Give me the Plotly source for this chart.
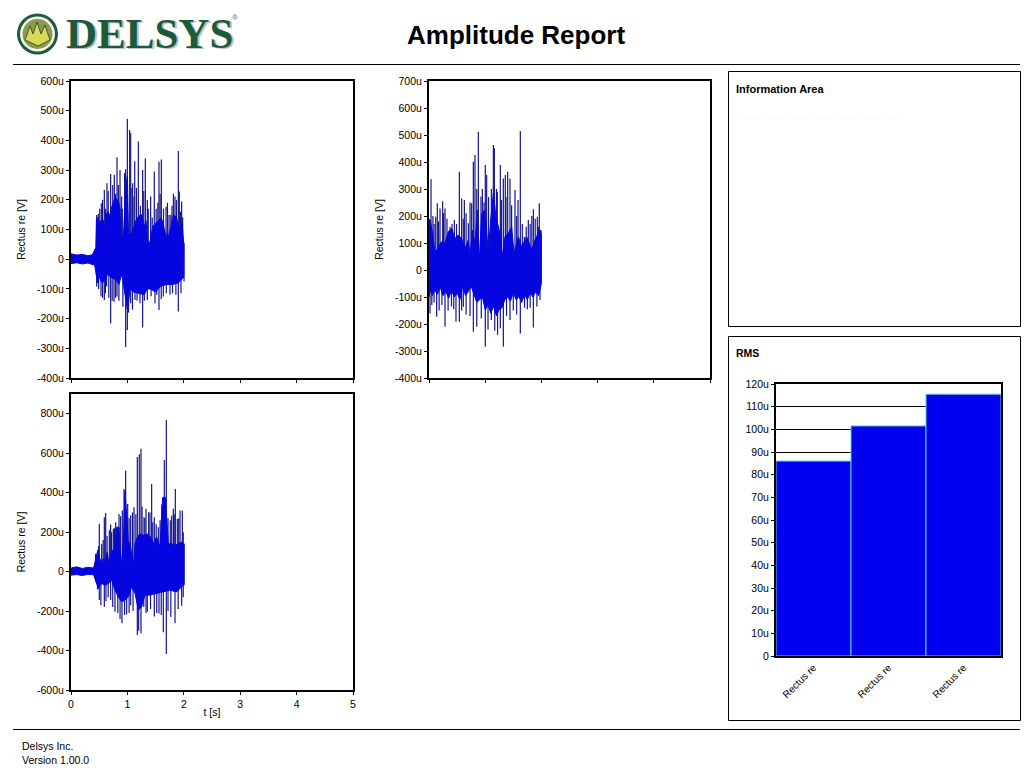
import plotly.graph_objects as go

W, H = 1033, 777

# ---------- data (microvolts / seconds) ----------
TITLE = "Amplitude Report"
CHANNEL = "Rectus re"
time_ticks = [0, 1, 2, 3, 4, 5]

# Plot 1 (top left)
p1_hi_t = [0, 0.1, 0.2, 0.3, 0.38, 0.42, 0.44, 0.45, 0.47, 0.5, 0.52, 0.55, 0.58, 0.6, 0.62, 0.66, 0.7, 0.72, 0.75, 0.78, 0.82, 0.85, 0.87, 0.89, 0.91, 0.93, 0.96, 0.98, 1.0, 1.02, 1.05, 1.1, 1.15, 1.2, 1.25, 1.3, 1.33, 1.36, 1.4, 1.45, 1.5, 1.55, 1.6, 1.63, 1.67, 1.72, 1.78, 1.82, 1.87, 1.92, 1.97, 2.0]
p1_hi_v = [18, 14, 16, 12, 15, 30, 40, 130, 140, 120, 125, 135, 130, 70, 150, 160, 140, 175, 190, 210, 200, 190, 170, 60, 80, 80, 200, 260, 280, 90, 80, 100, 130, 145, 150, 110, 130, 50, 60, 110, 120, 130, 140, 120, 90, 70, 120, 150, 140, 100, 120, 50]
p1_lo_t = [0, 0.1, 0.2, 0.3, 0.42, 0.45, 0.47, 0.5, 0.55, 0.6, 0.65, 0.7, 0.75, 0.8, 0.85, 0.9, 0.95, 1.0, 1.05, 1.1, 1.2, 1.3, 1.35, 1.4, 1.5, 1.6, 1.7, 1.8, 1.9, 2.0]
p1_lo_v = [-15, -12, -16, -13, -20, -50, -80, -60, -80, -70, -50, -60, -65, -70, -85, -50, -110, -170, -100, -110, -115, -120, -100, -100, -110, -90, -85, -85, -80, -60]
p1_up_t = [0.455, 0.485, 0.538, 0.591, 0.638, 0.703, 0.768, 0.816, 0.869, 0.898, 0.969, 0.999, 1.04, 1.058, 1.093, 1.117, 1.194, 1.27, 1.318, 1.353, 1.412, 1.477, 1.56, 1.602, 1.685, 1.738, 1.815, 1.844, 1.903, 1.921, 1.962, 2.004,
           0.51, 0.56, 0.61, 0.66, 0.74, 0.79, 0.84, 0.91, 0.95, 1.08, 1.13, 1.16, 1.23, 1.29, 1.37, 1.44, 1.51, 1.54, 1.58, 1.64, 1.71, 1.77, 1.79, 1.87, 1.94, 1.98]
p1_up_v = [149, 152, 188, 233, 256, 287, 284, 343, 300, 211, 303, 472, 435, 424, 256, 211, 396, 300, 340, 199, 211, 295, 328, 336, 177, 149, 220, 211, 364, 228, 194, 54,
           170, 200, 170, 230, 250, 220, 250, 170, 290, 240, 330, 240, 180, 230, 170, 140, 170, 190, 220, 170, 190, 150, 180, 200, 160, 140]
p1_dn_t = [0.455, 0.532, 0.591, 0.632, 0.703, 0.762, 0.816, 0.969, 0.999, 1.058, 1.135, 1.223, 1.27, 1.353, 1.489, 1.56, 1.637, 1.755, 1.903, 2.004,
           0.49, 0.56, 0.61, 0.67, 0.73, 0.79, 0.85, 0.92, 1.02, 1.09, 1.17, 1.3, 1.42, 1.52, 1.6, 1.69, 1.8, 1.86, 1.95]
p1_dn_v = [-92, -126, -137, -92, -216, -143, -126, -296, -238, -148, -137, -148, -230, -137, -148, -171, -126, -120, -176, -75,
           -100, -130, -115, -130, -140, -130, -140, -160, -180, -170, -140, -140, -125, -120, -135, -115, -115, -120, -115]

# Plot 2 (top middle)
p2_hi_t = [0, 0.018, 0.065, 0.107, 0.166, 0.225, 0.285, 0.344, 0.403, 0.463, 0.522, 0.581, 0.641, 0.7, 0.729, 0.771, 0.818, 0.86, 0.896, 0.937, 0.996, 1.056, 1.097, 1.145, 1.192, 1.263, 1.305, 1.352, 1.412, 1.471, 1.512, 1.59, 1.649, 1.738, 1.827, 1.886, 1.945, 1.987, 2.0]
p2_hi_v = [190, 185, 136, 62, 86, 105, 99, 142, 154, 117, 130, 117, 80, 111, 49, 148, 99, 222, 37, 210, 222, 62, 185, 284, 197, 136, 49, 123, 136, 160, 62, 123, 86, 123, 74, 111, 136, 148, 130]
p2_lo_t = [0, 0.02, 0.06, 0.1, 0.15, 0.2, 0.25, 0.3, 0.35, 0.4, 0.45, 0.5, 0.55, 0.6, 0.65, 0.7, 0.75, 0.8, 0.85, 0.9, 0.95, 1.0, 1.05, 1.1, 1.15, 1.2, 1.25, 1.3, 1.35, 1.4, 1.45, 1.5, 1.55, 1.6, 1.65, 1.7, 1.75, 1.8, 1.85, 1.9, 1.95, 2.0]
p2_lo_v = [-100, -74, -95, -74, -90, -65, -95, -80, -105, -75, -100, -85, -110, -60, -95, -80, -60, -90, -120, -110, -100, -148, -130, -160, -135, -170, -145, -140, -110, -100, -115, -85, -110, -99, -120, -90, -110, -85, -100, -80, -95, -50]
p2_up_t = [0.036, 0.119, 0.148, 0.196, 0.243, 0.285, 0.374, 0.451, 0.54, 0.581, 0.629, 0.7, 0.759, 0.789, 0.818, 0.878, 0.925, 1.002, 1.026, 1.145, 1.163, 1.216, 1.269, 1.323, 1.358, 1.4, 1.441, 1.53, 1.584, 1.625, 1.696, 1.767, 1.857, 1.928, 1.963, 1.987,
           0.07, 0.09, 0.17, 0.26, 0.32, 0.41, 0.49, 0.61, 0.66, 0.73, 0.85, 0.95, 0.98, 1.06, 1.11, 1.2, 1.29, 1.37, 1.47, 1.56, 1.66, 1.73, 1.8, 1.83, 1.89, 1.95]
p2_up_v = [336, 197, 247, 228, 255, 228, 160, 185, 364, 265, 259, 173, 247, 401, 426, 512, 272, 389, 352, 463, 451, 290, 389, 339, 352, 364, 339, 296, 259, 515, 123, 185, 225, 197, 247, 148,
           200, 170, 180, 210, 190, 170, 170, 190, 210, 250, 300, 300, 250, 270, 300, 300, 260, 270, 240, 200, 170, 160, 170, 200, 190, 160]
p2_dn_t = [0.018, 0.136, 0.285, 0.48, 0.54, 0.611, 0.789, 1.002, 1.11, 1.269, 1.323, 1.441, 1.625, 1.857, 1.975,
           0.05, 0.09, 0.18, 0.23, 0.34, 0.4, 0.44, 0.58, 0.66, 0.73, 0.85, 0.93, 1.05, 1.17, 1.22, 1.38, 1.5, 1.56, 1.7, 1.75, 1.8, 1.92]
p2_dn_v = [-161, -173, -210, -192, -192, -136, -229, -284, -185, -216, -284, -185, -235, -213, -111,
           -130, -120, -150, -130, -150, -135, -145, -150, -165, -170, -210, -180, -220, -225, -240, -170, -150, -165, -140, -145, -140, -135]

# Plot 3 (bottom left)
p3_hi_t = [0, 0.1, 0.2, 0.3, 0.4, 0.437, 0.467, 0.502, 0.544, 0.573, 0.603, 0.644, 0.68, 0.721, 0.768, 0.81, 0.851, 0.887, 0.928, 0.957, 1.016, 1.058, 1.105, 1.135, 1.176, 1.223, 1.294, 1.353, 1.412, 1.46, 1.519, 1.578, 1.625, 1.673, 1.726, 1.785, 1.844, 1.903, 1.962, 2.004]
p3_hi_v = [18, 24, 16, 22, 18, 74, 99, 74, 40, 65, 49, 99, 24, 108, 108, 225, 225, 24, 141, 410, 158, 124, 24, 141, 175, 192, 183, 192, 175, 141, 175, 124, 376, 376, 141, 141, 133, 141, 150, 141]
p3_lo_t = [0, 0.1, 0.2, 0.3, 0.4, 0.437, 0.485, 0.544, 0.603, 0.662, 0.721, 0.78, 0.839, 0.898, 0.957, 1.016, 1.075, 1.135, 1.194, 1.253, 1.312, 1.4, 1.519, 1.637, 1.755, 1.873, 1.962, 2.004]
p3_lo_v = [-18, -15, -20, -14, -16, -44, -86, -60, -69, -60, -44, -94, -128, -153, -145, -128, -77, -110, -195, -178, -119, -119, -111, -103, -94, -103, -77, -60]
p3_up_t = [0.437, 0.473, 0.502, 0.544, 0.591, 0.615, 0.703, 0.751, 0.792, 0.851, 0.91, 0.94, 0.969, 1.005, 1.058, 1.117, 1.176, 1.211, 1.241, 1.294, 1.33, 1.377, 1.43, 1.477, 1.548, 1.655, 1.69, 1.785, 1.815, 1.85, 1.885, 1.933, 1.974, 2.004,
           0.49, 0.57, 0.64, 0.68, 0.72, 0.77, 0.82, 0.88, 1.03, 1.09, 1.15, 1.26, 1.31, 1.4, 1.45, 1.51, 1.58, 1.61, 1.72, 1.76, 1.83, 1.91, 1.99]
p3_up_v = [91, 111, 242, 141, 276, 297, 239, 217, 250, 292, 309, 418, 511, 343, 284, 326, 581, 595, 623, 276, 318, 301, 444, 276, 225, 565, 768, 284, 318, 418, 267, 309, 309, 141,
           130, 160, 180, 210, 200, 220, 210, 280, 270, 300, 290, 330, 270, 300, 250, 240, 260, 340, 270, 260, 290, 270, 200]
p3_dn_t = [0.437, 0.502, 0.591, 0.703, 0.78, 0.904, 0.987, 1.058, 1.176, 1.241, 1.353, 1.477, 1.56, 1.637, 1.69, 1.844, 1.962, 2.004,
           0.47, 0.53, 0.62, 0.66, 0.74, 0.83, 0.87, 0.95, 1.03, 1.1, 1.2, 1.29, 1.33, 1.41, 1.52, 1.6, 1.72, 1.77, 1.9, 1.99]
p3_dn_v = [-52, -144, -178, -144, -203, -262, -217, -170, -321, -312, -203, -228, -212, -307, -417, -262, -173, -69,
           -90, -170, -150, -130, -180, -210, -240, -220, -210, -200, -300, -180, -210, -190, -210, -220, -200, -230, -190, -130]

# Bars
rms_positions = [0, 1, 2]
rms_labels = [CHANNEL, CHANNEL, CHANNEL]
rms_values = [86, 101.5, 115.5]

# Ticks
p1_ticks = [600, 500, 400, 300, 200, 100, 0, -100, -200, -300, -400]
p2_ticks = [700, 600, 500, 400, 300, 200, 100, 0, -100, -200, -300, -400]
p3_ticks = [800, 600, 400, 200, 0, -200, -400, -600]
rms_ticks = [120, 110, 100, 90, 80, 70, 60, 50, 40, 30, 20, 10, 0]

# ---------- style ----------
FONT = "Liberation Sans"
BODY = "#0505e0"
SPIKE = "#16168c"


def ulabel(v):
    return "0" if v == 0 else f"{v}u"


def px(x):
    return x / W


def py(y):
    return 1 - y / H


def spikes(ts, vs):
    xs, ys = [], []
    for t, v in zip(ts, vs):
        xs += [t, t, None]
        ys += [0, v, None]
    return xs, ys


fig = go.Figure()


def add_signal(axis, hi_t, hi, lo_t, lo, up_t, up_v, dn_t, dn_v):
    refs = dict(xaxis="x" + axis, yaxis="y" + axis)
    for ts, vs in ((up_t, up_v), (dn_t, dn_v)):
        xs, ys = spikes(ts, vs)
        fig.add_trace(go.Scatter(x=xs, y=ys, mode="lines",
                                 line=dict(color=SPIKE, width=1.2), showlegend=False, **refs))
    fig.add_trace(go.Scatter(x=hi_t + lo_t[::-1], y=hi + lo[::-1], mode="lines",
                             fill="toself", fillcolor=BODY,
                             line=dict(color=BODY, width=1), showlegend=False, **refs))


add_signal("", p1_hi_t, p1_hi_v, p1_lo_t, p1_lo_v, p1_up_t, p1_up_v, p1_dn_t, p1_dn_v)
add_signal("2", p2_hi_t, p2_hi_v, p2_lo_t, p2_lo_v, p2_up_t, p2_up_v, p2_dn_t, p2_dn_v)
add_signal("3", p3_hi_t, p3_hi_v, p3_lo_t, p3_lo_v, p3_up_t, p3_up_v, p3_dn_t, p3_dn_v)

fig.add_trace(go.Bar(x=rms_positions, y=rms_values, width=1, xaxis="x4", yaxis="y4",
                     marker=dict(color="#0000f0", line=dict(color="#5fd0c8", width=1)),
                     showlegend=False))

tick_font = dict(family=FONT, size=10.5, color="#000")
title_font = dict(family=FONT, size=10.5, color="#000")
frame = dict(showline=True, mirror=True, linecolor="#000", linewidth=2, zeroline=False, automargin=False,
             ticks="outside", ticklen=3, tickwidth=1, tickcolor="#000", tickfont=tick_font)


def xaxis(x0, x1, anchor, labels, title=None):
    return dict(frame, domain=[px(x0), px(x1)], range=[0, 5], tickmode="array",
                tickvals=time_ticks, ticktext=[str(t) for t in time_ticks],
                showticklabels=labels, showgrid=False, anchor=anchor,
                title=dict(text=title, font=title_font, standoff=0) if title else None)


def yaxis(y0, y1, rng, ticks, anchor):
    return dict(frame, domain=[py(y1), py(y0)], range=rng, tickmode="array",
                tickvals=ticks, ticktext=[ulabel(t) for t in ticks], showgrid=False, anchor=anchor,
                title=dict(text=CHANNEL + " [V]", font=title_font, standoff=9))


shapes = []
for x0, y0, x1, y1 in ((728.5, 71.5, 1020.5, 326.5), (728.5, 336.5, 1020.5, 720.5)):
    shapes.append(dict(type="rect", xref="paper", yref="paper", x0=px(x0), x1=px(x1), y0=py(y1), y1=py(y0),
                       line=dict(color="#000", width=1), layer="below"))
for y in (64.5, 729.5):
    shapes.append(dict(type="line", xref="paper", yref="paper", x0=px(13), x1=px(1020), y0=py(y), y1=py(y),
                       line=dict(color="#000", width=1)))
# faint smudge under the information heading
shapes.append(dict(type="line", xref="paper", yref="paper", x0=px(733), x1=px(897), y0=py(118.5), y1=py(118.5),
                   line=dict(color="#f0f0f0", width=1, dash="dot")))
# logo emblem
cx, cy = 37.5, 34
for r, fill in ((20.5, "#1d5a3a"), (17.5, "#f4f6ea"), (15, "#8a9a50")):
    shapes.append(dict(type="circle", xref="paper", yref="paper", x0=px(cx - r), x1=px(cx + r),
                       y0=py(cy + r), y1=py(cy - r), fillcolor=fill, line=dict(width=0)))
shapes.append(dict(type="path", xref="paper", yref="paper",
                   path=f"M {px(25)} {py(40)} L {px(30)} {py(26)} L {px(33)} {py(34)} L {px(37)} {py(22)} "
                        f"L {px(41)} {py(34)} L {px(45)} {py(25)} L {px(50)} {py(40)} L {px(38)} {py(46)} Z",
                   fillcolor="#d8d85a", line=dict(color="#3c5a2c", width=1)))

annotations = []


def note(text, x, y, size, color="#000", bold=False, family=FONT, xanchor="left"):
    annotations.append(dict(text=f"<b>{text}</b>" if bold else text, x=px(x), y=py(y), xref="paper", yref="paper",
                            xanchor=xanchor, yanchor="middle", showarrow=False,
                            font=dict(family=family, size=size, color=color), borderpad=0))


note(TITLE, 516, 35, 26, bold=True, xanchor="center")
note("DELSYS", 67, 35, 43, color="#b9c4bc", bold=True, family="Liberation Serif")
note("DELSYS", 65, 33.5, 43, color="#1c5a3c", bold=True, family="Liberation Serif")
note("®", 231, 17, 8, color="#5c6f60")
note("Information Area", 735, 89, 11, bold=True)
note("RMS", 735, 353, 10.5, bold=True)
note("Delsys Inc.", 21, 746, 10.5)
note("Version 1.00.0", 21, 760, 10.5)

fig.update_layout(
    width=W, height=H, autosize=False, margin=dict(l=0, r=0, t=0, b=0, pad=0, autoexpand=False),
    paper_bgcolor="#fff", plot_bgcolor="#fff", showlegend=False, hovermode=False,
    shapes=shapes, annotations=annotations,
    xaxis=xaxis(71, 353, "y", False),
    yaxis=yaxis(81, 378, [-400, 600], p1_ticks, "x"),
    xaxis2=xaxis(429, 710, "y2", False),
    yaxis2=yaxis(81, 378, [-400, 700], p2_ticks, "x2"),
    xaxis3=xaxis(71, 353, "y3", True, "t [s]"),
    yaxis3=yaxis(394, 690, [-600, 900], p3_ticks, "x3"),
    xaxis4=dict(frame, domain=[px(776), px(1001)], range=[-0.5, 2.5], tickmode="array",
                tickvals=rms_positions, ticktext=rms_labels, tickangle=-45, ticks="", showgrid=False,
                anchor="y4", tickfont=dict(family=FONT, size=10, color="#000")),
    yaxis4=dict(frame, domain=[py(656), py(384)], range=[0, 120], tickmode="array",
                tickvals=rms_ticks, ticktext=[ulabel(t) for t in rms_ticks],
                showgrid=True, gridcolor="#000", gridwidth=1, anchor="x4"),
)

fig.write_html("out.html", config={"displayModeBar": False},
               post_script="document.body.style.margin='0';")
